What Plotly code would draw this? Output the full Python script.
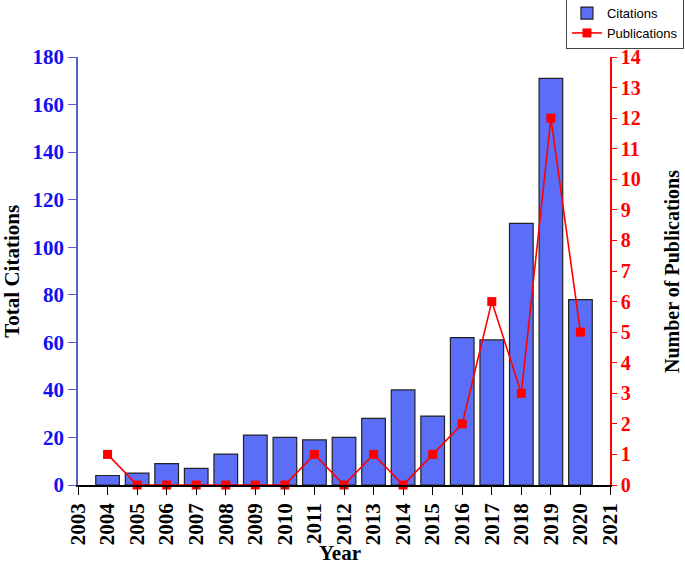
import plotly.graph_objects as go

years = [2004, 2005, 2006, 2007, 2008, 2009, 2010, 2011, 2012, 2013,
         2014, 2015, 2016, 2017, 2018, 2019, 2020]
citations = [4, 5, 9, 7, 13, 21, 20, 19, 20, 28, 40, 29, 62, 61, 110, 171, 78]
publications = [1, 0, 0, 0, 0, 0, 0, 1, 0, 1, 0, 1, 2, 6, 3, 12, 5]
x_ticks = list(range(2003, 2022))

serif = "Liberation Serif"
fig = go.Figure()
fig.add_trace(go.Bar(
    x=years, y=citations, name="Citations", width=0.8,
    marker=dict(color="#5b6ef8", line=dict(color="#222222", width=1.2)),
    yaxis="y"))
fig.add_trace(go.Scatter(
    x=years, y=publications, name="Publications", mode="lines+markers",
    line=dict(color="#ff0000", width=1.6),
    marker=dict(symbol="square", size=9, color="#ff0000"),
    yaxis="y2", cliponaxis=False))

title_font = dict(family=serif, size=21, color="black")
fig.update_layout(
    width=685, height=565,
    margin=dict(l=78, r=75, t=57, b=80, autoexpand=False),
    paper_bgcolor="white", plot_bgcolor="white",
    showlegend=True,
    legend=dict(x=1.139, y=1.14, xanchor="right", yanchor="top",
                bordercolor="#444444", borderwidth=1,
                font=dict(family="Liberation Sans", size=13, color="black"),
                tracegroupgap=0, traceorder="normal"),
    xaxis=dict(range=[2003, 2021], tickmode="array", tickvals=x_ticks,
               ticktext=[str(v) for v in x_ticks], tickangle=-90,
               showline=True, linecolor="black", linewidth=1.5,
               ticks="outside", ticklen=8, tickcolor="black",
               showgrid=False, zeroline=False, automargin=False,
               tickfont=dict(family=serif, size=21, color="black", weight="bold")),
    yaxis=dict(range=[0, 180], dtick=20, showline=True, linecolor="#5560cc",
               linewidth=1.5, ticks="outside", ticklen=8, tickcolor="#5560cc",
               showgrid=False, zeroline=False, automargin=False,
               tickfont=dict(family=serif, size=21, color="#1010f0", weight="bold")),
    yaxis2=dict(range=[0, 14], dtick=1, overlaying="y", side="right",
                showline=True, linecolor="#ff0000", linewidth=1.5,
                ticks="outside", ticklen=5, tickcolor="#ff0000",
                showgrid=False, zeroline=False, automargin=False,
                tickfont=dict(family=serif, size=20, color="#ff0000", weight="bold")),
    annotations=[
        dict(text="<b>Year</b>", xref="paper", yref="paper", x=0.4925, y=-0.159,
             xanchor="center", yanchor="middle", showarrow=False, font=title_font),
        dict(text="<b>Total Citations</b>", xref="paper", yref="paper", x=-0.1245,
             y=0.5, textangle=-90, xanchor="center", yanchor="middle",
             showarrow=False, font=title_font),
        dict(text="<b>Number of Publications</b>", xref="paper", yref="paper",
             x=1.1165, y=0.5, textangle=-90, xanchor="center", yanchor="middle",
             showarrow=False, font=dict(family=serif, size=20, color="black")),
    ],
)

fig.write_html("out.html", config={"displayModeBar": False},
               post_script="document.body.style.margin='0px';")
